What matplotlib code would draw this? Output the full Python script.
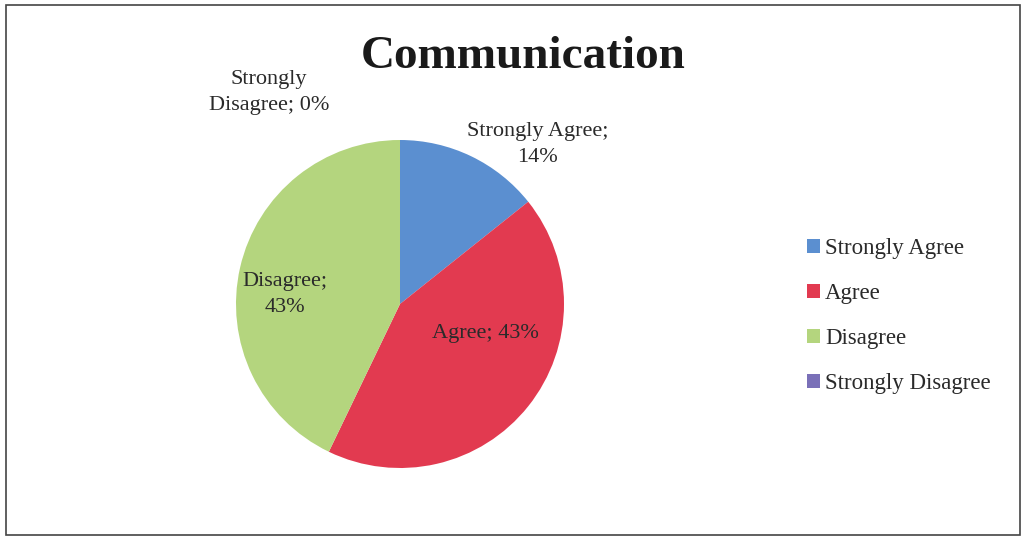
import matplotlib.pyplot as plt
from matplotlib.patches import Rectangle, Patch

# Survey answers for "Communication"
categories = ["Strongly Agree", "Agree", "Disagree", "Strongly Disagree"]
counts = [1, 3, 3, 0]
colors = ["#5b8fd0", "#e23a50", "#b4d57e", "#7a70b8"]

# where each data label sits (pie data coords, radius = 1)
label_pos = [(0.84, 0.97), (0.52, -0.18), (-0.70, 0.06), (-0.80, 1.29)]
label_breaks = [True, False, True, True]

plt.rcParams["font.family"] = ["Liberation Serif", "DejaVu Serif"]

fig = plt.figure(figsize=(10.26, 5.38), dpi=100)
fig.patch.set_facecolor("white")

# Frame around the chart
fig.add_artist(Rectangle((0.006, 0.006), 0.988, 0.985, transform=fig.transFigure,
                         fill=False, edgecolor="#444444", linewidth=1.2))

r_px = 164
cx, cy = 400, 538 - 304
ax = fig.add_axes([(cx - r_px) / 1026, (cy - r_px) / 538, 2 * r_px / 1026, 2 * r_px / 538])
wedges, _ = ax.pie(counts, colors=colors, startangle=90, counterclock=False,
                   radius=1.0, wedgeprops=dict(linewidth=0))
ax.set_xlim(-1, 1)
ax.set_ylim(-1, 1)
ax.set_aspect("equal")
ax.axis("off")

total = sum(counts)
for name, n, (x, y), brk in zip(categories, counts, label_pos, label_breaks):
    pct = f"{round(100 * n / total)}%"
    if name == "Strongly Disagree":
        txt = f"Strongly\nDisagree; {pct}"
    elif brk:
        txt = f"{name};\n{pct}"
    else:
        txt = f"{name}; {pct}"
    ax.text(x, y, txt, ha="center", va="center", fontsize=16, color="#2a2a2a",
            linespacing=1.5, clip_on=False)

fig.text(523 / 1026, 1 - 57 / 538, "Communication", ha="center", va="center",
         fontsize=34, fontweight="bold", color="#1a1a1a")

handles = [Patch(facecolor=c, edgecolor="none") for c in colors]
fig.legend(handles, categories, loc="center left",
           bbox_to_anchor=(786 / 1026, 1 - 316 / 538), frameon=False,
           fontsize=16.5, handlelength=0.6, handleheight=0.6,
           handletextpad=0.2, labelspacing=1.05, labelcolor="#2a2a2a")

fig.savefig("out.png", dpi=100)
